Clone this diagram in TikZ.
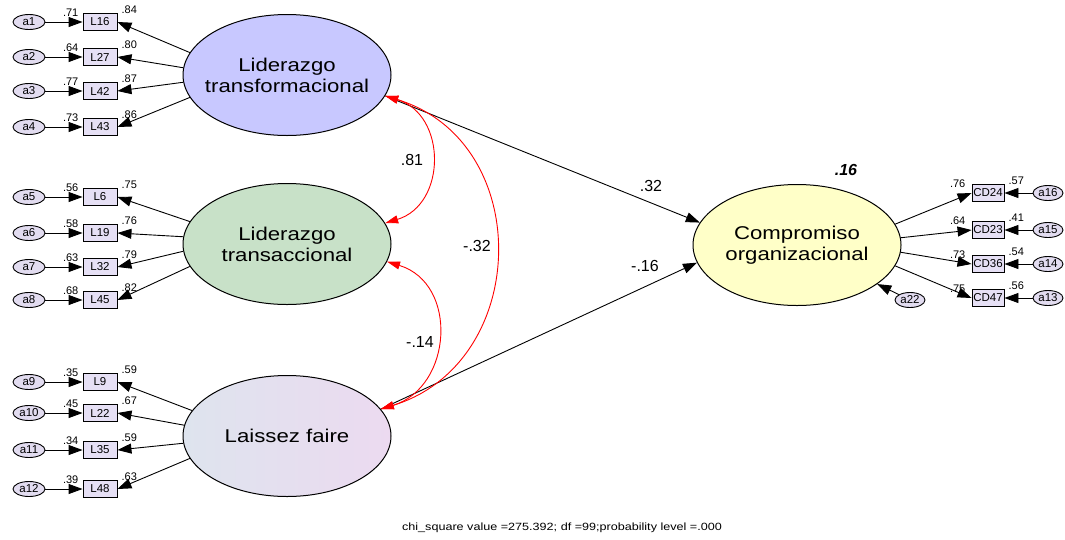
\documentclass[tikz,border=0pt]{standalone}
\usepackage{fontspec}
\setmainfont{Liberation Sans}
\newfontfamily\widefont[FakeStretch=1.2]{Liberation Sans}
\usetikzlibrary{arrows.meta,shapes.geometric}
\definecolor{trfcolor}{RGB}{200,200,255}
\definecolor{trscolor}{RGB}{200,225,200}
\definecolor{lfleft}{RGB}{222,228,238}
\definecolor{lfright}{RGB}{236,218,240}
\definecolor{comcolor}{RGB}{255,255,200}
\definecolor{boxcolor}{RGB}{230,224,245}
\definecolor{errcolor}{RGB}{226,220,240}
\begin{document}
\begin{tikzpicture}[x=1pt, y=1pt,
    latent/.style ={ellipse, draw, line width=1pt, inner xsep=-20pt, minimum width=208pt, minimum height=121pt, align=center, font=\widefont\fontsize{18.5}{21}\selectfont},
    observed/.style ={rectangle, draw, line width=0.9pt, fill=boxcolor, minimum width=34pt, minimum height=17pt, inner sep=0pt, font=\fontsize{11.5}{12}\selectfont},
    error/.style ={ellipse, draw, line width=0.9pt, fill=errcolor, minimum width=32pt, minimum height=15pt, inner sep=0pt, font=\fontsize{11.5}{12}\selectfont},
    weight/.style ={inner sep=0pt, font=\fontsize{11}{12}\selectfont},
    coef/.style ={inner sep=0pt, font=\fontsize{16}{18}\selectfont},
    path/.style ={line width=0.9pt, -{Triangle[length=14pt,width=10pt]}},
    covar/.style ={red, line width=0.9pt, {Triangle[length=13pt,width=8pt]}-{Triangle[length=13pt,width=8pt]}, out=-17, in=17, looseness=1.3}]
   \useasboundingbox (0,0) rectangle (1065,-539);

   % latent variables
   \node[latent, fill=trfcolor] (LT)  at (287,-75)  {Liderazgo\\transformacional};
   \node[latent, fill=trscolor] (LTA) at (287,-244) {Liderazgo\\transaccional};
   \node[latent, left color=lfleft, right color=lfright] (LF) at (287,-436) {Laissez faire};
   \node[latent, fill=comcolor] (CO)  at (797,-245) {Compromiso\\organizacional};

   % indicators
   \node[observed] (L16) at (100,-22)  {L16};
   \node[observed] (L27) at (100,-57)  {L27};
   \node[observed] (L42) at (100,-91)  {L42};
   \node[observed] (L43) at (100,-127) {L43};
   \node[observed] (L6)  at (100,-197) {L6};
   \node[observed] (L19) at (100,-233) {L19};
   \node[observed] (L32) at (100,-267) {L32};
   \node[observed] (L45) at (100,-300) {L45};
   \node[observed] (L9)  at (100,-382) {L9};
   \node[observed] (L22) at (100,-413) {L22};
   \node[observed] (L35) at (100,-450) {L35};
   \node[observed] (L48) at (100,-489) {L48};
   \node[observed, minimum width=32pt] (CD24) at (988,-193) {CD24};
   \node[observed, minimum width=32pt] (CD23) at (988,-230) {CD23};
   \node[observed, minimum width=32pt] (CD36) at (988,-264) {CD36};
   \node[observed, minimum width=32pt] (CD47) at (988,-298) {CD47};

   % errors
   \node[error] (a1)  at (29,-22)  {a1};
   \node[error] (a2)  at (29,-57)  {a2};
   \node[error] (a3)  at (29,-91)  {a3};
   \node[error] (a4)  at (29,-127) {a4};
   \node[error] (a5)  at (29,-197) {a5};
   \node[error] (a6)  at (29,-233) {a6};
   \node[error] (a7)  at (29,-267) {a7};
   \node[error] (a8)  at (29,-300) {a8};
   \node[error] (a9)  at (29,-382) {a9};
   \node[error] (a10) at (29,-413) {a10};
   \node[error] (a11) at (29,-450) {a11};
   \node[error] (a12) at (29,-489) {a12};
   \node[error, minimum width=30pt] (a16) at (1048,-193) {a16};
   \node[error, minimum width=30pt] (a15) at (1048,-230) {a15};
   \node[error, minimum width=30pt] (a14) at (1048,-264) {a14};
   \node[error, minimum width=30pt] (a13) at (1048,-298) {a13};
   \node[error, minimum width=30pt] (a22) at (910,-300)  {a22};

   \draw[path] (a1) to (L16);
   \draw[path] (a2) to (L27);
   \draw[path] (a3) to (L42);
   \draw[path] (a4) to (L43);
   \draw[path] (a5) to (L6);
   \draw[path] (a6) to (L19);
   \draw[path] (a7) to (L32);
   \draw[path] (a8) to (L45);
   \draw[path] (a9) to (L9);
   \draw[path] (a10) to (L22);
   \draw[path] (a11) to (L35);
   \draw[path] (a12) to (L48);
   \draw[path] (a16) to (CD24);
   \draw[path] (a15) to (CD23);
   \draw[path] (a14) to (CD36);
   \draw[path] (a13) to (CD47);
   \draw[path] (a22) to (CO);

   \draw[path] (LT.167) to (L16.east);
   \draw[path] (LT.176) to (L27.east);
   \draw[path] (LT.184) to (L42.east);
   \draw[path] (LT.193) to (L43.east);
   \draw[path] (LTA.167) to (L6.east);
   \draw[path] (LTA.176) to (L19.east);
   \draw[path] (LTA.184) to (L32.east);
   \draw[path] (LTA.193) to (L45.east);
   \draw[path] (LF.165) to (L9.east);
   \draw[path] (LF.174) to (L22.east);
   \draw[path] (LF.184) to (L35.east);
   \draw[path] (LF.193) to (L48.east);
   \draw[path] (CO.12) to (CD24.west);
   \draw[path] (CO.4) to (CD23.west);
   \draw[path] (CO.-4) to (CD36.west);
   \draw[path] (CO.-12) to (CD47.west);

   % squared multiple correlations and loadings
   \node[weight, anchor=east] (r16) at ([xshift=-4pt]L16.north west) {.71};
   \node[weight, anchor=east] (r27) at ([xshift=-4pt]L27.north west) {.64};
   \node[weight, anchor=east] (r42) at ([xshift=-4pt]L42.north west) {.77};
   \node[weight, anchor=east] (r43) at ([xshift=-4pt]L43.north west) {.73};
   \node[weight, anchor=east] (r6)  at ([xshift=-4pt]L6.north west)  {.56};
   \node[weight, anchor=east] (r19) at ([xshift=-4pt]L19.north west) {.58};
   \node[weight, anchor=east] (r32) at ([xshift=-4pt]L32.north west) {.63};
   \node[weight, anchor=east] (r45) at ([xshift=-4pt]L45.north west) {.68};
   \node[weight, anchor=east] (r9)  at ([xshift=-4pt]L9.north west)  {.35};
   \node[weight, anchor=east] (r22) at ([xshift=-4pt]L22.north west) {.45};
   \node[weight, anchor=east] (r35) at ([xshift=-4pt]L35.north west) {.34};
   \node[weight, anchor=east] (r48) at ([xshift=-4pt]L48.north west) {.39};
   \node[weight, anchor=east] (r24) at ([xshift=-6pt]CD24.north west) {.76};
   \node[weight, anchor=east] (r23) at ([xshift=-6pt]CD23.north west) {.64};
   \node[weight, anchor=east] (r36) at ([xshift=-6pt]CD36.north west) {.73};
   \node[weight, anchor=east] (r47) at ([xshift=-6pt]CD47.north west) {.75};

   \node[weight, anchor=west] (w16) at ([xshift=4pt,yshift=3pt]L16.north east) {.84};
   \node[weight, anchor=west] (w27) at ([xshift=4pt,yshift=3pt]L27.north east) {.80};
   \node[weight, anchor=west] (w42) at ([xshift=4pt,yshift=3pt]L42.north east) {.87};
   \node[weight, anchor=west] (w43) at ([xshift=4pt,yshift=3pt]L43.north east) {.86};
   \node[weight, anchor=west] (w6)  at ([xshift=4pt,yshift=3pt]L6.north east)  {.75};
   \node[weight, anchor=west] (w19) at ([xshift=4pt,yshift=3pt]L19.north east) {.76};
   \node[weight, anchor=west] (w32) at ([xshift=4pt,yshift=3pt]L32.north east) {.79};
   \node[weight, anchor=west] (w45) at ([xshift=4pt,yshift=3pt]L45.north east) {.82};
   \node[weight, anchor=west] (w9)  at ([xshift=4pt,yshift=3pt]L9.north east)  {.59};
   \node[weight, anchor=west] (w22) at ([xshift=4pt,yshift=3pt]L22.north east) {.67};
   \node[weight, anchor=west] (w35) at ([xshift=4pt,yshift=3pt]L35.north east) {.59};
   \node[weight, anchor=west] (w48) at ([xshift=4pt,yshift=3pt]L48.north east) {.63};
   \node[weight, anchor=west] (w24) at ([xshift=4pt,yshift=3pt]CD24.north east) {.57};
   \node[weight, anchor=west] (w23) at ([xshift=4pt,yshift=3pt]CD23.north east) {.41};
   \node[weight, anchor=west] (w36) at ([xshift=4pt,yshift=3pt]CD36.north east) {.54};
   \node[weight, anchor=west] (w47) at ([xshift=4pt,yshift=3pt]CD47.north east) {.56};

   % structural paths and covariances
   \draw[path] (LT.-12) to (CO.167);
   \draw[path] (LF.16) to (CO.190);
   \draw[covar] (LT.-12) to (LTA.12);
   \draw[covar] (LTA.-10) to (LF.16);
   \draw[covar, looseness=1.28] (LT.-12) to (LF.16);

   \node[coef] (c1) at (651,-186) {.32};
   \node[coef] (c2) at (645,-266) {-.16};
   \node[coef] (c3) at (412,-160) {.81};
   \node[coef] (c4) at (477,-246) {-.32};
   \node[coef] (c5) at (420,-342) {-.14};
   \node[coef, font=\fontsize{16}{18}\selectfont\bfseries\itshape] (r2) at (846,-170) {.16};

   \node[font=\widefont\fontsize{10.5}{12}\selectfont] (fit) at (562,-528) {chi\_square value =275.392; df =99;probability level =.000};

 \end{tikzpicture}
\end{document}
